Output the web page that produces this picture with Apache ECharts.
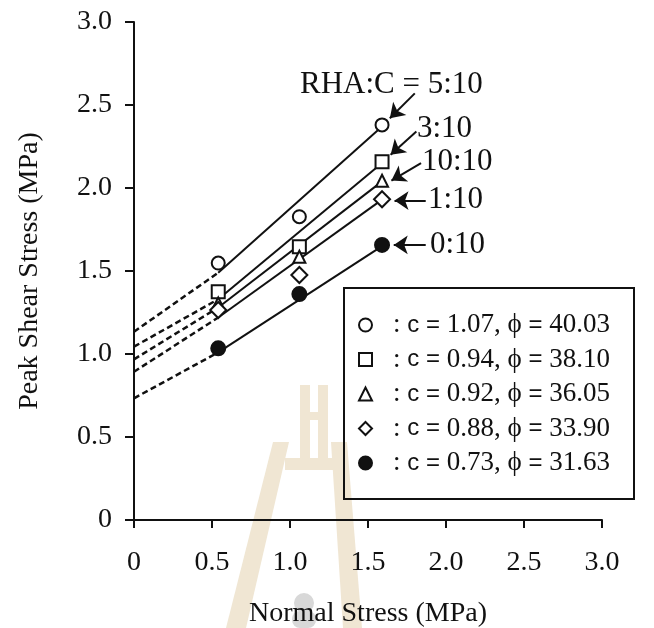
<!DOCTYPE html>
<html><head><meta charset="utf-8">
<script src="https://cdn.jsdelivr.net/npm/echarts@6/dist/echarts.min.js"></script>
<style>html,body{margin:0;padding:0;background:#fff}#c{width:654px;height:628px}</style>
</head><body><div id="c"></div>
<script>
// ---- data ----
const normalStress = [0.54, 1.06, 1.59];
const ratios = ['5:10', '3:10', '10:10', '1:10', '0:10'];
const cohesion = ['1.07', '0.94', '0.92', '0.88', '0.73'];
const friction = ['40.03', '38.10', '36.05', '33.90', '31.63'];
const shear_5_10 = [1.548, 1.827, 2.380];
const shear_3_10 = [1.375, 1.646, 2.158];
const shear_10_10 = [1.305, 1.586, 2.044];
const shear_1_10 = [1.265, 1.476, 1.932];
const shear_0_10 = [1.034, 1.361, 1.657];
// fitted envelopes: value at x = 0 (dashed start), junction, end
const fitX = [0, 0.54, 1.59];
const fit_5_10 = [1.134, 1.49, 2.37];
const fit_3_10 = [1.044, 1.33, 2.15];
const fit_10_10 = [0.968, 1.28, 2.04];
const fit_1_10 = [0.893, 1.22, 1.93];
const fit_0_10 = [0.733, 1.01, 1.65];
// annotation arrows (from -> to), data units
const arrowFrom = [[1.80, 2.57], [1.81, 2.34], [1.84, 2.15], [1.87, 1.924], [1.87, 1.657]];
const arrowTo = [[1.64, 2.42], [1.645, 2.20], [1.65, 2.045], [1.67, 1.924], [1.665, 1.657]];
const annotationText = ['RHA:C = 5:10', '3:10', '10:10', '1:10', '0:10'];
const xTickLabels = ['0', '0.5', '1.0', '1.5', '2.0', '2.5', '3.0'];
const yTickLabels = ['0', '0.5', '1.0', '1.5', '2.0', '2.5', '3.0'];

// ---- styles ----
const shearSets = [shear_5_10, shear_3_10, shear_10_10, shear_1_10, shear_0_10];
const fitSets = [fit_5_10, fit_3_10, fit_10_10, fit_1_10, fit_0_10];
const symbols = ['circle', 'rect', 'triangle', 'diamond', 'circle'];
const symSizes = [13, 13, 12, 16, 14];
const fills = ['#fff', '#fff', '#fff', '#fff', '#111'];
const SERIF = '"Liberation Serif", "Times New Roman", serif';
const SANS = '"Liberation Sans", Arial, sans-serif';
const INK = '#111';
const TAN = '#f0e6d3';

const series = [];
fitSets.forEach((f, i) => {
  series.push({
    type: 'line', name: 'dash' + i, silent: true, symbol: 'none', z: 2,
    data: [[fitX[0], f[0]], [fitX[1], f[1]]],
    lineStyle: { color: INK, width: 2.5, type: [6, 3.5] }
  });
  series.push({
    type: 'line', name: 'fit' + i, silent: true, symbol: 'none', z: 2,
    data: [[fitX[1], f[1]], [fitX[2], f[2]]],
    lineStyle: { color: INK, width: 2 }
  });
});
shearSets.forEach((s, i) => {
  series.push({
    type: 'scatter', name: ratios[i], z: 5,
    symbol: symbols[i], symbolSize: symSizes[i],
    itemStyle: { color: fills[i], borderColor: INK, borderWidth: 2, opacity: 1 },
    data: s.map((v, k) => [normalStress[k], v])
  });
});
series.push({
  type: 'line', name: 'arrows', silent: true, data: [], z: 6,
  markLine: {
    silent: true, animation: false,
    symbol: ['none', 'arrow'], symbolSize: 14,
    label: { show: false },
    lineStyle: { color: INK, width: 2, type: 'solid' },
    data: arrowFrom.map((a, i) => [{ coord: a }, { coord: arrowTo[i] }])
  }
});

const legendRich = {
  p: { fontFamily: SERIF, fontSize: 27, color: INK, padding: [0, 0, 0, 16] },
  s: { fontFamily: SANS, fontSize: 24, color: INK },
  n: { fontFamily: SERIF, fontSize: 27, color: INK }
};

const labelPos = [[300, 85], [417, 129], [422, 162], [428, 200], [430, 245]];

const watermark = [
  { type: 'polygon', z: -5, silent: true, shape: { points: [[273, 442], [289, 442], [246, 628], [226, 628]] }, style: { fill: TAN } },
  { type: 'polygon', z: -5, silent: true, shape: { points: [[331, 442], [347, 442], [362, 628], [343, 628]] }, style: { fill: TAN } },
  { type: 'rect', z: -5, silent: true, shape: { x: 300, y: 385, width: 10, height: 85 }, style: { fill: TAN } },
  { type: 'rect', z: -5, silent: true, shape: { x: 318, y: 385, width: 10, height: 85 }, style: { fill: TAN } },
  { type: 'rect', z: -5, silent: true, shape: { x: 285, y: 458, width: 50, height: 12 }, style: { fill: TAN } },
  { type: 'rect', z: -5, silent: true, shape: { x: 300, y: 412, width: 28, height: 8 }, style: { fill: TAN } },
  { type: 'circle', z: -5, silent: true, shape: { cx: 304, cy: 603, r: 10 }, style: { fill: '#d8d8d8' } },
  { type: 'rect', z: -5, silent: true, shape: { x: 292, y: 611, width: 24, height: 17, r: 8 }, style: { fill: '#d8d8d8' } }
];

const chart = echarts.init(document.getElementById('c'), null, { renderer: 'canvas' });
chart.setOption({
  animation: false,
  backgroundColor: '#fff',
  grid: { left: 134, right: 52, top: 22, bottom: 108, containLabel: false, outerBoundsMode: 'none' },
  xAxis: {
    type: 'value', min: 0, max: 3, interval: 0.5,
    name: 'Normal Stress (MPa)', nameLocation: 'middle', nameGap: 80,
    nameTextStyle: { fontFamily: SERIF, fontSize: 28, color: INK },
    axisLine: { lineStyle: { color: INK, width: 2 } },
    axisTick: { inside: false, length: 8, lineStyle: { color: INK, width: 2 } },
    axisLabel: { fontFamily: SERIF, fontSize: 28, color: INK, margin: 29,
      formatter: (v) => xTickLabels[Math.round(v / 0.5)] },
    splitLine: { show: false }
  },
  yAxis: {
    type: 'value', min: 0, max: 3, interval: 0.5,
    name: 'Peak Shear Stress (MPa)', nameLocation: 'middle', nameGap: 90,
    nameTextStyle: { fontFamily: SERIF, fontSize: 28, color: INK },
    axisLine: { show: true, lineStyle: { color: INK, width: 2 } },
    axisTick: { show: true, inside: false, length: 9, lineStyle: { color: INK, width: 2 } },
    axisLabel: { fontFamily: SERIF, fontSize: 28, color: INK, margin: 22,
      formatter: (v) => yTickLabels[Math.round(v / 0.5)] },
    splitLine: { show: false }
  },
  legend: {
    orient: 'vertical', left: 358, top: 311.5, padding: 0,
    itemWidth: 13, itemHeight: 13, itemGap: 7.5,
    selectedMode: false,
    data: ratios.map((r, i) => ({
      name: r, icon: symbols[i],
      itemStyle: { color: fills[i], borderColor: INK, borderWidth: 2 }
    })),
    formatter: (name) => {
      const i = ratios.indexOf(name);
      return '{p|:} {s|c =} {n|' + cohesion[i] + ', \u03d5} {s|=} {n|' + friction[i] + '}';
    },
    textStyle: { fontFamily: SERIF, fontSize: 27, color: INK, rich: legendRich }
  },
  graphic: [
    ...watermark,
    { type: 'rect', z: 100, silent: true,
      shape: { x: 344, y: 288, width: 290, height: 211 },
      style: { fill: null, stroke: INK, lineWidth: 2 } },
    ...annotationText.map((t, i) => ({
      type: 'text', z: 100, silent: true, x: labelPos[i][0], y: labelPos[i][1],
      style: { text: t, fontFamily: SERIF, fontSize: 31, fill: INK,
        textAlign: 'left', textVerticalAlign: 'middle', verticalAlign: 'middle' }
    }))
  ],
  series: series
});
</script></body></html>
